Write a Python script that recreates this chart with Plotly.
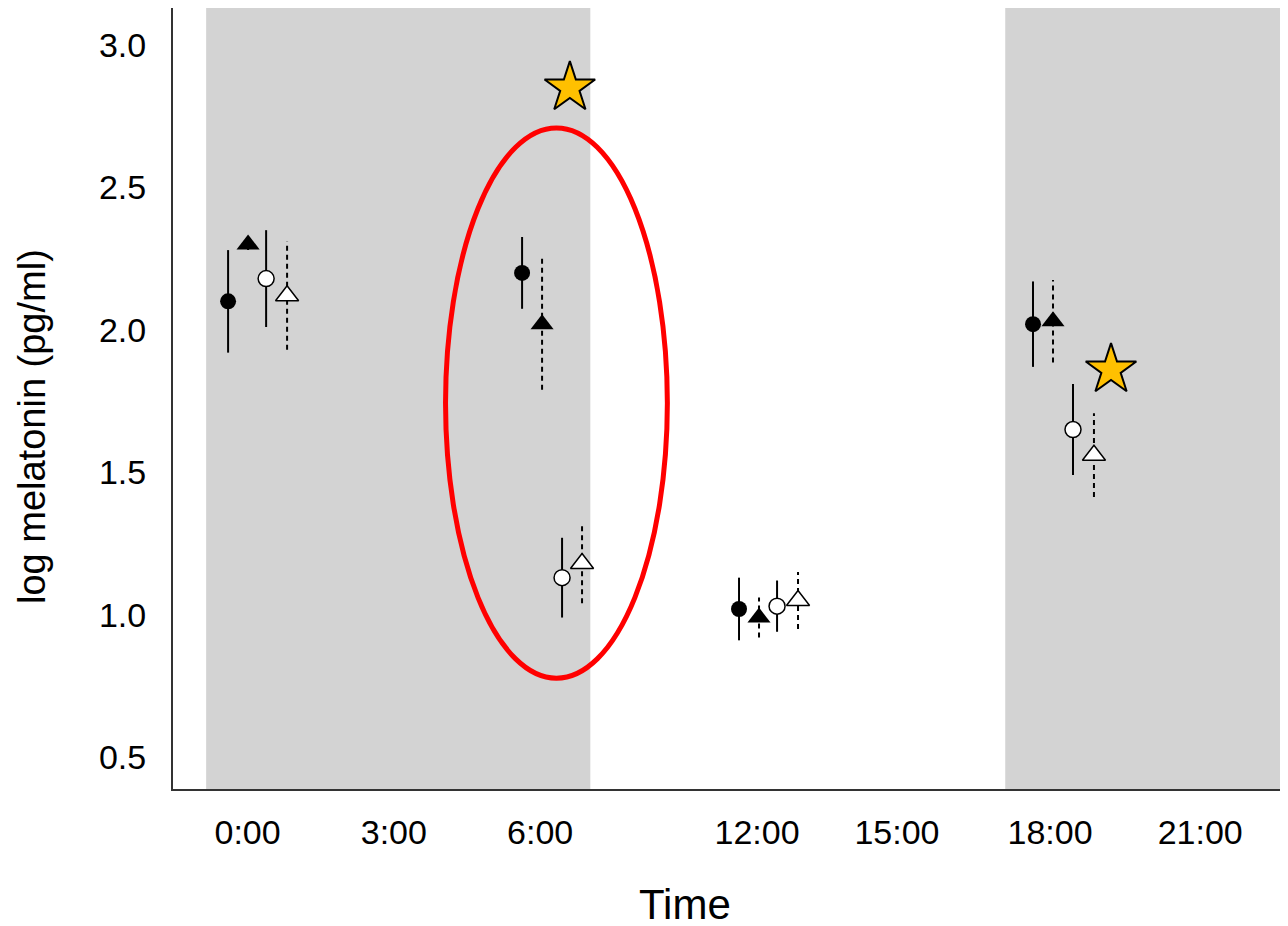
import plotly.graph_objects as go

# ---- data ----
tick_pos = [0, 3, 6, 10.45, 13.32, 16.46, 19.54]
tick_text = ["0:00", "3:00", "6:00", "12:00", "15:00", "18:00", "21:00"]
y_ticks = [0.5, 1.0, 1.5, 2.0, 2.5, 3.0]
y_tick_text = ["0.5", "1.0", "1.5", "2.0", "2.5", "3.0"]

# filled circles
fc_x = [-0.40, 5.63, 10.08, 16.11]
fc_y = [2.10, 2.20, 1.02, 2.02]
fc_e = [0.18, 0.126, 0.11, 0.15]
# filled triangles
ft_x = [0.01, 6.04, 10.49, 16.52]
ft_y = [2.30, 2.02, 0.99, 2.03]
ft_e = [0.02, 0.23, 0.07, 0.145]
# open circles
oc_x = [0.38, 6.45, 10.86, 16.93]
oc_y = [2.18, 1.13, 1.03, 1.65]
oc_e = [0.17, 0.14, 0.09, 0.16]
# open triangles
ot_x = [0.81, 6.86, 11.29, 17.36]
ot_y = [2.12, 1.18, 1.05, 1.56]
ot_e = [0.19, 0.14, 0.10, 0.147]

night_x0 = [-0.85, 15.54]
night_x1 = [7.03, 21.6]

star_x = [6.61, 17.71]
star_y = [2.85, 1.86]

ellipse_x = [4.06, 8.61]
ellipse_y = [0.777, 2.709]

FONT = "Liberation Sans, Arial, sans-serif"

fig = go.Figure()


def err_segments(xs, ys, es):
    lx, ly = [], []
    for x, y, e in zip(xs, ys, es):
        lx += [x, x, None]
        ly += [y - e, y + e, None]
    return lx, ly


for xs, ys, es, dash in [(fc_x, fc_y, fc_e, "solid"), (oc_x, oc_y, oc_e, "solid"),
                         (ft_x, ft_y, ft_e, "5px,4px"), (ot_x, ot_y, ot_e, "5px,4px")]:
    lx, ly = err_segments(xs, ys, es)
    fig.add_trace(go.Scatter(x=lx, y=ly, mode="lines",
                             line=dict(color="black", width=2, dash=dash),
                             hoverinfo="skip", showlegend=False))

fig.add_trace(go.Scatter(x=fc_x, y=fc_y, mode="markers",
                         marker=dict(symbol="circle", size=16, color="black"), showlegend=False))
fig.add_trace(go.Scatter(x=ft_x, y=ft_y, mode="markers",
                         marker=dict(symbol="triangle-up", size=20, color="black"), showlegend=False))
fig.add_trace(go.Scatter(x=oc_x, y=oc_y, mode="markers",
                         marker=dict(symbol="circle", size=16, color="white",
                                     line=dict(color="black", width=1.5)), showlegend=False))
fig.add_trace(go.Scatter(x=ot_x, y=ot_y, mode="markers",
                         marker=dict(symbol="triangle-up", size=20, color="white",
                                     line=dict(color="black", width=1.5)), showlegend=False))
fig.add_trace(go.Scatter(x=star_x, y=star_y, mode="markers",
                         marker=dict(symbol="star", size=38, color="#FFC000",
                                     line=dict(color="black", width=2)), showlegend=False))

for a, b in zip(night_x0, night_x1):
    fig.add_shape(type="rect", xref="x", yref="paper", x0=a, x1=b, y0=0, y1=1,
                  fillcolor="#D3D3D3", line=dict(width=0), layer="below")

fig.add_shape(type="circle", xref="x", yref="y", x0=ellipse_x[0], x1=ellipse_x[1],
              y0=ellipse_y[0], y1=ellipse_y[1], line=dict(color="#FF0000", width=5),
              fillcolor="rgba(0,0,0,0)")

fig.add_annotation(text="Time", xref="paper", yref="paper", x=0.459, y=-0.1485,
                   xanchor="center", yanchor="middle", showarrow=False,
                   font=dict(size=42, family=FONT, color="black"))
fig.add_annotation(text="log melatonin (pg/ml)", xref="paper", yref="paper",
                   x=-0.127, y=0.464, xanchor="center", yanchor="middle", showarrow=False,
                   textangle=-90, font=dict(size=38, family=FONT, color="black"))

fig.update_layout(
    width=1288, height=926,
    margin=dict(l=165, r=8, t=0, b=145),
    plot_bgcolor="white", paper_bgcolor="white",
    font=dict(family=FONT, color="black"),
    xaxis=dict(range=[-1.53, 21.34], tickvals=tick_pos, ticktext=tick_text,
               showgrid=False, zeroline=False, showline=True, linecolor="#333333", linewidth=2,
               ticks="", tickfont=dict(size=34), ticklabelstandoff=12),
    yaxis=dict(range=[0.388, 3.13], tickvals=y_ticks, ticktext=y_tick_text,
               showgrid=False, zeroline=False, showline=True, linecolor="#333333", linewidth=2,
               ticks="", tickfont=dict(size=34), ticklabelstandoff=18),
)

fig.write_html("out.html")
